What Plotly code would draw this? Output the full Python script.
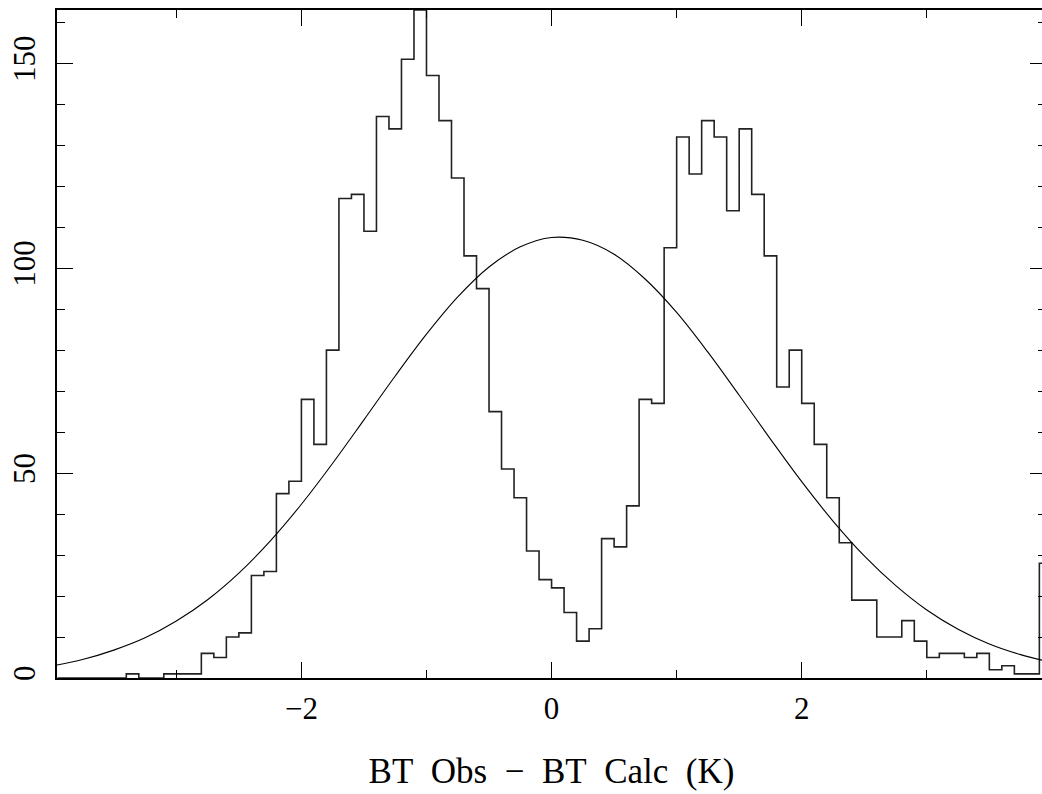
import plotly.graph_objects as go

# Histogram: bin centres (0.1 wide bins from -4.0 to 4.0) and counts
bin_centers = [round(-3.95 + 0.1 * i, 2) for i in range(80)]
counts = [0, 0, 0, 0, 0, 0, 1, 0, 0, 1,
          1, 1, 6, 5, 10, 11, 25, 26, 45, 48,
          68, 57, 80, 117, 118, 109, 137, 134, 151, 163,
          147, 136, 122, 103, 95, 65, 51, 44, 31, 24,
          22, 16, 9, 12, 34, 32, 42, 68, 67, 105,
          132, 123, 136, 132, 114, 134, 118, 103, 71, 80,
          67, 57, 44, 33, 19, 19, 10, 10, 14, 9,
          5, 6, 6, 5, 6, 2, 3, 1, 1, 28]

# Fitted curve
fit_x = [-4.0, -3.75, -3.5, -3.25, -3.0, -2.75, -2.5, -2.25, -2.0, -1.75, -1.5, -1.25,
         -1.0, -0.75, -0.5, -0.25, 0.0, 0.25, 0.5, 0.75, 1.0, 1.25, 1.5, 1.75,
         2.0, 2.25, 2.5, 2.75, 3.0, 3.25, 3.5, 3.75, 4.0]
fit_y = [2.9, 4.5, 6.8, 9.8, 13.9, 19.1, 25.6, 33.4, 42.4, 52.4, 63.0, 73.7,
         83.9, 93.0, 100.3, 105.2, 107.5, 106.8, 103.4, 97.3, 89.2, 79.5, 69.0, 58.3,
         47.9, 38.3, 29.8, 22.6, 16.6, 11.9, 8.3, 5.7, 3.8]

x_major = [-2, 0, 2]
x_title = "BT\u00a0 Obs\u00a0 \u2212\u00a0 BT\u00a0 Calc\u00a0 (K)"

font_family = "Liberation Serif"

fig = go.Figure()
fig.add_trace(go.Scatter(x=bin_centers, y=counts, mode="lines",
                         line=dict(shape="hvh", color="#222222", width=1.6),
                         hoverinfo="skip", showlegend=False, cliponaxis=True))
fig.add_trace(go.Scatter(x=fit_x, y=fit_y, mode="lines",
                         line=dict(shape="spline", color="black", width=1.1),
                         hoverinfo="skip", showlegend=False))

fig.update_layout(
    width=1050, height=794,
    margin=dict(l=57, r=2, t=10, b=116, pad=0),
    paper_bgcolor="white", plot_bgcolor="white",
    font=dict(family=font_family, color="black", size=31),
    showlegend=False,
)
fig.update_xaxes(
    range=[-3.954, 3.953], showgrid=False, zeroline=False,
    showline=True, linecolor="black", linewidth=1.5, mirror="ticks",
    ticks="inside", ticklen=16, tickwidth=1.2, tickcolor="black",
    tickmode="array", tickvals=x_major,
    minor=dict(ticks="inside", ticklen=8, dtick=1, tickwidth=1.2, tickcolor="black", showgrid=False),
    tickfont=dict(family=font_family, size=31, color="black"),
    ticklabelstandoff=2,
    title=dict(text=x_title, font=dict(family=font_family, size=35, color="black"), standoff=34),
)
fig.update_yaxes(
    range=[0, 163], showgrid=False, zeroline=False,
    showline=True, linecolor="black", linewidth=1.5, mirror="ticks",
    ticks="inside", ticklen=16, tickwidth=1.2, tickcolor="black",
    tick0=0, dtick=50,
    minor=dict(ticks="inside", ticklen=8, dtick=10, tickwidth=1.2, tickcolor="black", showgrid=False),
    tickfont=dict(family=font_family, size=31, color="black"),
    tickangle=-90, ticklabelstandoff=8,
)

fig.write_html("out.html",
               post_script="document.documentElement.style.overflow='hidden';document.body.style.overflow='hidden';")
